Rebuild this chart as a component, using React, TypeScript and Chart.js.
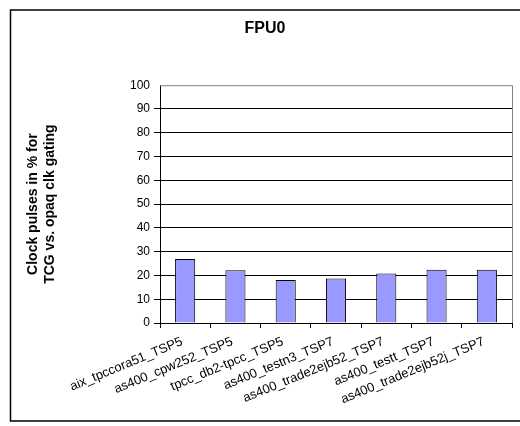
import React, { useEffect, useRef } from "react";
import { Chart, registerables } from "chart.js";

Chart.register(...registerables);

const categories = [
  "aix_tpccora51_TSP5",
  "as400_cpw252_TSP5",
  "tpcc_db2-tpcc_TSP5",
  "as400_testn3_TSP7",
  "as400_trade2ejb52_TSP7",
  "as400_testt_TSP7",
  "as400_trade2ejb52j_TSP7",
];
const values = [26.9, 22.2, 18.1, 18.7, 20.8, 22.4, 22.4];
const chartTitle = "FPU0";
const yTitle = ["Clock pulses in % for", "TCG vs. opaq clk gating"];
const yMin = 0;
const yMax = 100;
const yStep = 10;

const FONT = "'Liberation Sans', Arial, Helvetica, sans-serif";

const framePlugin = {
  id: "frame",
  beforeDraw(chart: any) {
    const ctx = chart.ctx;
    ctx.save();
    ctx.fillStyle = "#ffffff";
    ctx.fillRect(0, 0, chart.width, chart.height);
    ctx.strokeStyle = "#000000";
    ctx.lineWidth = 1.5;
    ctx.strokeRect(10.5, 10, 520, 411);
    ctx.restore();
  },
  afterDatasetsDraw(chart: any) {
    const { ctx, chartArea } = chart;
    ctx.save();
    ctx.strokeStyle = "#808080";
    ctx.lineWidth = 1;
    ctx.beginPath();
    ctx.moveTo(chartArea.left, chartArea.top + 0.5);
    ctx.lineTo(chartArea.right + 0.5, chartArea.top + 0.5);
    ctx.lineTo(chartArea.right + 0.5, chartArea.bottom);
    ctx.stroke();
    ctx.restore();
  },
};

export default function App() {
  const ref = useRef<HTMLCanvasElement>(null);
  useEffect(() => {
    if (!ref.current) return;
    const chart = new Chart(ref.current, {
      type: "bar",
      data: {
        labels: categories,
        datasets: [
          {
            data: values,
            backgroundColor: "#9999FF",
            borderColor: "#000000",
            borderWidth: 1,
            barPercentage: 0.4,
            categoryPercentage: 1.0,
          },
        ],
      },
      options: {
        responsive: false,
        animation: false,
        layout: { padding: { left: 10, right: 0, top: 0, bottom: 0 } },
        plugins: {
          legend: { display: false },
          tooltip: { enabled: false },
          title: {
            display: true,
            text: chartTitle,
            color: "#000000",
            font: { family: FONT, size: 16, weight: "bold", lineHeight: 1.2 },
            padding: { top: 19, bottom: 47 },
          },
        },
        scales: {
          x: {
            grid: {
              offset: true,
              drawOnChartArea: false,
              drawTicks: true,
              tickLength: 5,
              color: "#000000",
            },
            border: { color: "#000000", width: 1 },
            ticks: {
              color: "#000000",
              font: { family: FONT, size: 13 },
              minRotation: 22.5,
              maxRotation: 22.5,
              autoSkip: false,
              padding: 6,
              labelOffset: -3,
            },
            afterFit(scale: any) {
              scale.height = 426 - 323;
            },
          },
          y: {
            min: yMin,
            max: yMax,
            grid: {
              color: (c: any) => (c.tick && c.tick.value === yMax ? "rgba(0,0,0,0)" : "#000000"),
              drawTicks: true,
              tickLength: 6,
            },
            border: { color: "#000000", width: 1 },
            ticks: {
              stepSize: yStep,
              color: "#000000",
              font: { family: FONT, size: 12 },
              padding: 4,
            },
            title: {
              display: true,
              text: yTitle,
              color: "#000000",
              font: { family: FONT, size: 14, weight: "bold", lineHeight: 1.2 },
              padding: { top: 15, bottom: 0 },
            },
            afterFit(scale: any) {
              scale.width = 150;
            },
          },
          yRight: {
            position: "right",
            display: true,
            grid: { display: false, drawTicks: false },
            border: { display: false },
            ticks: { display: false },
            afterFit(scale: any) {
              scale.width = 8;
            },
          },
        },
      },
      plugins: [framePlugin],
    });
    return () => chart.destroy();
  }, []);
  return (
    <div style={{ position: "fixed", left: 0, top: 0, width: 520, height: 426, background: "#fff" }}>
      <canvas ref={ref} width={520} height={426} style={{ display: "block" }} />
    </div>
  );
}
